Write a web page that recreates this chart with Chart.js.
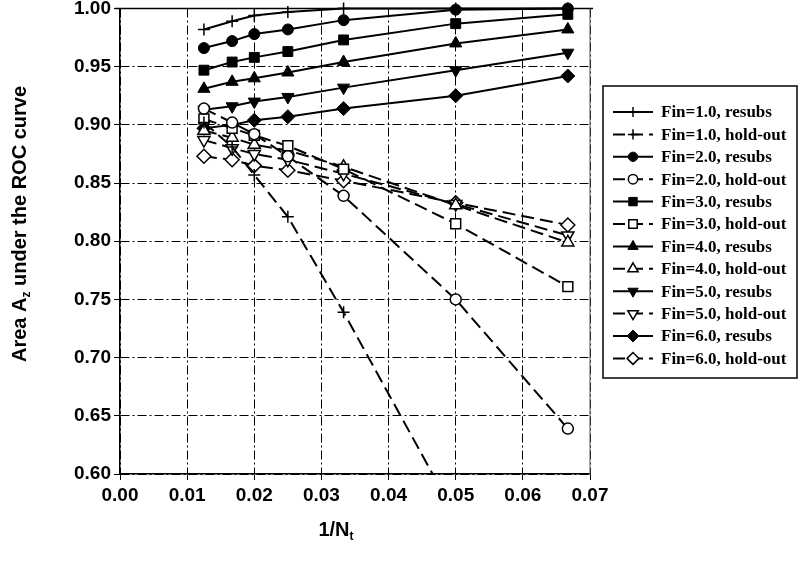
<!DOCTYPE html>
<html>
<head>
<meta charset="utf-8">
<script src="https://cdn.jsdelivr.net/npm/chart.js@4/dist/chart.umd.min.js"></script>
<style>
  body { margin: 0; background: #fff; }
  #wrap { width: 800px; height: 562px; }
</style>
</head>
<body>
<div id="wrap"><canvas id="roc" width="800" height="562"></canvas></div>
<script>

// Data {

    // 1/Nt sample points
    const xs = [0.0125, 0.0167, 0.02, 0.025, 0.0333, 0.05, 0.0667];

    const fins = ['1.0', '2.0', '3.0', '4.0', '5.0', '6.0'];

    // resubstitution Az
    const r1 = [0.982, 0.989, 0.994, 0.997, 1.000, 1.000, 1.000];
    const r2 = [0.966, 0.972, 0.978, 0.982, 0.990, 0.999, 1.000];
    const r3 = [0.947, 0.954, 0.958, 0.963, 0.973, 0.987, 0.995];
    const r4 = [0.931, 0.937, 0.940, 0.945, 0.954, 0.970, 0.982];
    const r5 = [0.913, 0.916, 0.920, 0.924, 0.932, 0.947, 0.962];
    const r6 = [0.897, 0.900, 0.904, 0.907, 0.914, 0.925, 0.942];

    // hold-out Az
    const h1 = [0.902, 0.881, 0.857, 0.821, 0.739, 0.564, 0.350];
    const h2 = [0.914, 0.902, 0.892, 0.873, 0.839, 0.750, 0.639];
    const h3 = [0.905, 0.897, 0.891, 0.882, 0.862, 0.815, 0.761];
    const h4 = [0.895, 0.889, 0.883, 0.878, 0.864, 0.831, 0.799];
    const h5 = [0.887, 0.880, 0.875, 0.870, 0.858, 0.832, 0.805];
    const h6 = [0.873, 0.870, 0.865, 0.861, 0.852, 0.833, 0.814];

    const xTicks = [0, 0.01, 0.02, 0.03, 0.04, 0.05, 0.06, 0.07];
    const yTicks = [0.60, 0.65, 0.70, 0.75, 0.80, 0.85, 0.90, 0.95, 1.00];

// };

// Styles {

    const resubs = [r1, r2, r3, r4, r5, r6];
    const holdout = [h1, h2, h3, h4, h5, h6];

    const shapes = ['cross', 'circle', 'rect', 'triangle', 'triangle', 'rectRot'];
    const turns = [0, 0, 0, 0, 180, 0];
    const sizes = [6, 5.5, 7, 7, 7, 7];

    const sans = '"Liberation Sans", Arial, sans-serif';
    const serif = '"Liberation Serif", "Times New Roman", serif';

// };

// Datasets {

    const sets = [];

    fins.forEach((f, i) => {
        [['resubs', resubs[i], false], ['hold-out', holdout[i], true]].forEach(([kind, arr, hollow]) => {
            sets.push({
                label: 'Fin=' + f + ', ' + kind,
                data: xs.map((x, j) => ({ x: x, y: arr[j] })),
                borderColor: '#000',
                borderWidth: 2,
                borderDash: hollow ? [13, 6] : [],
                pointStyle: shapes[i],
                pointRotation: turns[i],
                pointRadius: sizes[i],
                pointHoverRadius: sizes[i],
                pointBorderWidth: hollow || i === 0 ? 1.5 : 1,
                pointBorderColor: '#000',
                pointBackgroundColor: hollow ? '#fff' : '#000',
                tension: 0,
                clip: { left: 10, top: 10, right: 10, bottom: 1 },
                hollow: hollow,
            });
        });
    });

// };

// Plugins {

    const paper = {
        id: 'paper',
        beforeDraw(c) {
            const ctx = c.ctx;
            ctx.save();
            ctx.fillStyle = '#fff';
            ctx.fillRect(0, 0, c.width, c.height);
            ctx.restore();
        }
    };

    // solid frame at 1.00 and 0.07
    const frame = {
        id: 'frame',
        beforeDatasetsDraw(c) {
            const ctx = c.ctx, a = c.chartArea;
            const y1 = c.scales.y.getPixelForValue(1.0);
            const x7 = c.scales.x.getPixelForValue(0.07);
            ctx.save();
            ctx.strokeStyle = '#000';
            ctx.lineWidth = 1.5;
            ctx.beginPath();
            ctx.moveTo(a.left - 5, y1);
            ctx.lineTo(a.right + 3, y1);
            ctx.stroke();
            ctx.lineWidth = 1;
            ctx.strokeStyle = '#555';
            ctx.beginPath();
            ctx.moveTo(x7, a.top);
            ctx.lineTo(x7, a.bottom);
            ctx.stroke();
            ctx.restore();
        }
    };

    // axis titles with subscripts
    function subText(ctx, parts, size) {
        let w = 0;
        parts.forEach(p => {
            ctx.font = 'bold ' + (p.sub ? size * 0.6 : size) + 'px ' + sans;
            w += ctx.measureText(p.t).width;
        });
        let x = -w / 2;
        parts.forEach(p => {
            ctx.font = 'bold ' + (p.sub ? size * 0.6 : size) + 'px ' + sans;
            ctx.fillText(p.t, x, p.sub ? size * 0.35 : 0);
            x += ctx.measureText(p.t).width;
        });
    }

    const titles = {
        id: 'titles',
        afterDraw(c) {
            const ctx = c.ctx;
            ctx.save();
            ctx.fillStyle = '#000';
            ctx.textBaseline = 'middle';
            ctx.textAlign = 'left';
            ctx.translate(20, 224);
            ctx.rotate(-Math.PI / 2);
            subText(ctx, [{ t: 'Area A' }, { t: 'z', sub: true }, { t: ' under the ROC curve' }], 20);
            ctx.restore();

            ctx.save();
            ctx.fillStyle = '#000';
            ctx.textBaseline = 'middle';
            ctx.textAlign = 'left';
            ctx.translate(336, 530);
            subText(ctx, [{ t: '1/N' }, { t: 't', sub: true }], 20);
            ctx.restore();
        }
    };

    // boxed legend on the right
    const keyBox = {
        id: 'keyBox',
        afterDraw(c) {
            const ctx = c.ctx;
            const bx = 603, by = 86, bw = 194, bh = 292;
            const top = 112, step = 22.4;
            ctx.save();
            ctx.strokeStyle = '#000';
            ctx.lineWidth = 1.5;
            ctx.strokeRect(bx, by, bw, bh);
            c.data.datasets.forEach((d, i) => {
                const y = top + i * step;
                ctx.strokeStyle = '#000';
                ctx.lineWidth = 2;
                ctx.setLineDash(d.hollow ? [12, 6] : []);
                ctx.beginPath();
                ctx.moveTo(613, y);
                ctx.lineTo(653, y);
                ctx.stroke();
                ctx.setLineDash([]);
                ctx.fillStyle = d.pointBackgroundColor;
                ctx.lineWidth = d.pointBorderWidth;
                Chart.helpers.drawPoint(ctx, {
                    pointStyle: d.pointStyle,
                    rotation: d.pointRotation,
                    radius: d.pointRadius * 0.85,
                    borderWidth: d.pointBorderWidth
                }, 633, y);
                ctx.fillStyle = '#000';
                ctx.font = 'bold 17px ' + serif;
                ctx.textBaseline = 'middle';
                ctx.textAlign = 'left';
                ctx.fillText(d.label, 661, y + 1);
            });
            ctx.restore();
        }
    };

// };

// Chart {

    const cr = document.getElementById('roc').getContext('2d');

    const roc = new Chart(cr, {
        type: 'line',
        data: { datasets: sets },
        options: {
            responsive: false,
            animation: false,
            layout: { padding: { top: 8, right: 210, left: 0, bottom: 0 } },
            plugins: {
                legend: { display: false },
                tooltip: { enabled: false },
            },
            scales: {
                x: {
                    type: 'linear',
                    min: 0,
                    max: 0.07,
                    afterBuildTicks: s => { s.ticks = xTicks.map(v => ({ value: v })); },
                    afterFit: s => { s.height = 88; s.paddingLeft = 0; s.paddingRight = 0; },
                    ticks: {
                        color: '#000',
                        font: { family: sans, size: 19, weight: 'bold' },
                        padding: 4,
                        maxRotation: 0,
                        callback: v => v.toFixed(2),
                    },
                    grid: { color: '#000', lineWidth: 1, tickLength: 6, tickColor: '#000' },
                    border: { color: '#000', width: 1.5, dash: [9, 3, 2, 3] },
                },
                y: {
                    min: 0.6,
                    max: 1.0,
                    afterBuildTicks: s => { s.ticks = yTicks.map(v => ({ value: v })); },
                    afterFit: s => { s.width = 120; s.paddingTop = 0; s.paddingBottom = 0; },
                    ticks: {
                        color: '#000',
                        font: { family: sans, size: 19, weight: 'bold', lineHeight: 1 },
                        padding: 3,
                        callback: v => v.toFixed(2),
                    },
                    grid: { color: '#000', lineWidth: 1, tickLength: 6, tickColor: '#000' },
                    border: { color: '#000', width: 1.5, dash: [9, 3, 2, 3] },
                },
            },
        },
        plugins: [paper, frame, titles, keyBox],
    });

// };

</script>
</body>
</html>
